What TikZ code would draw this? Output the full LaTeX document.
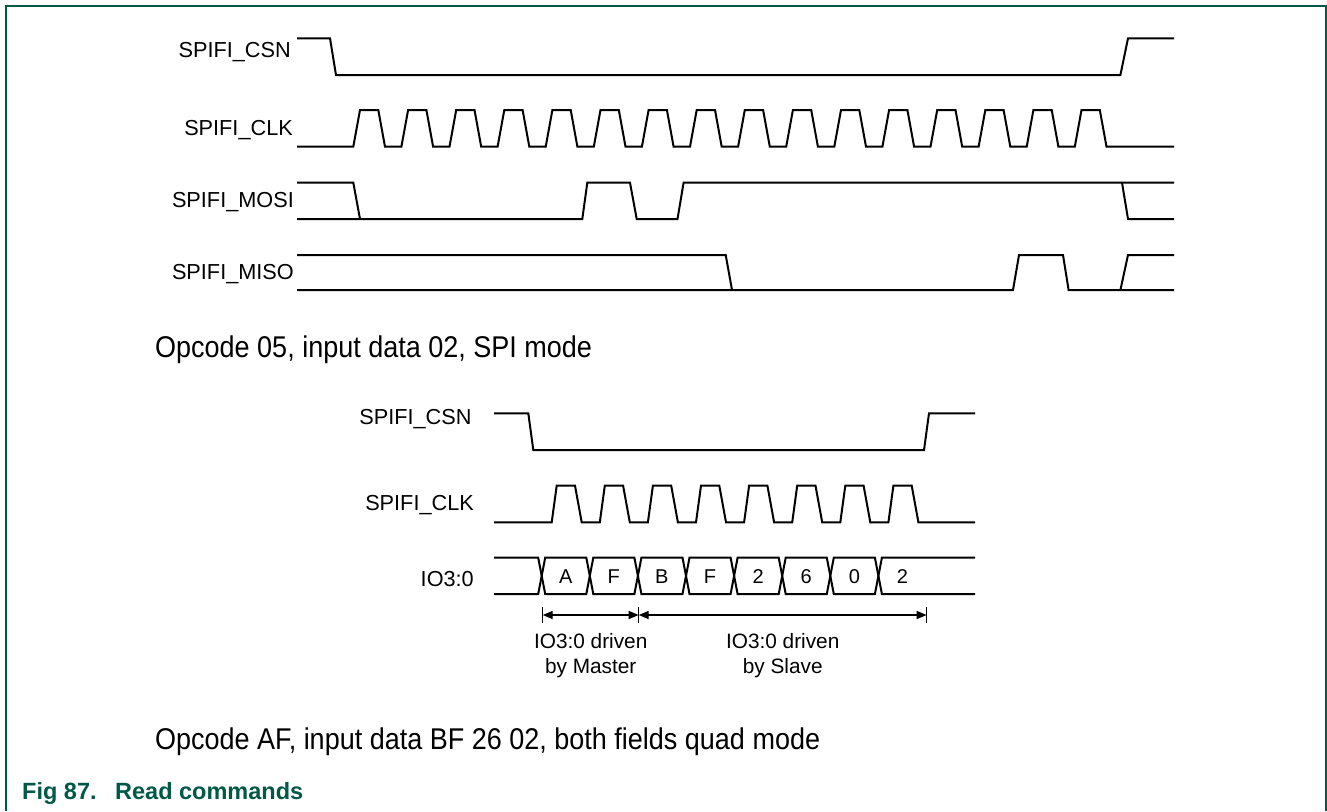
\documentclass[tikz,border=0pt]{standalone}
\usepackage{fontspec}
\setmainfont{Liberation Sans}
\newfontfamily\narrowsans{Liberation Sans}[FakeStretch=0.9]
\usetikzlibrary{arrows.meta}
\definecolor{nxpgreen}{RGB}{0,88,70}
\begin{document}
\begin{tikzpicture}[x=1pt,y=-1pt,
  sig/.style={line width=2pt,line join=miter,line cap=butt},
  lbl/.style={anchor=base east,inner sep=0pt,font=\fontsize{21.7}{26}\selectfont},
  txt/.style={anchor=base west,inner sep=0pt,font=\narrowsans\fontsize{30}{34}\selectfont},
  cell/.style={anchor=base,inner sep=0pt,font=\fontsize{20}{24}\selectfont},
  note/.style={anchor=base,inner sep=0pt,font=\fontsize{20.8}{25}\selectfont},
  figcap/.style={anchor=base west,inner sep=0pt,text=nxpgreen,font=\bfseries\fontsize{23.5}{28}\selectfont},
  dim/.style={line width=1.4pt,{Triangle[length=10pt,width=8pt]}-{Triangle[length=10pt,width=8pt]}},
  tickln/.style={line width=1pt}]
\useasboundingbox (0,0) rectangle (1327,811);
% frame
\draw[nxpgreen,line width=2pt] (5.5,811) -- (5.5,5.5) -- (1325.5,5.5) -- (1325.5,811);

% ---------- top diagram ----------
\node[lbl] (csnA) at (291,57.3) {SPIFI\_CSN};
\node[lbl] (clkA) at (293,135) {SPIFI\_CLK};
\node[lbl] (mosiA) at (294,207.3) {SPIFI\_MOSI};
\node[lbl] (misoA) at (294,279.3) {SPIFI\_MISO};

% CSN
\draw[sig] (297,38.3) -- (330,38.3) -- (336,75) -- (1120.4,75) -- (1128,38.3) -- (1174,38.3);
% CLK
\draw[sig] (297,146.7)
  foreach \k in {0,...,15} {
    -- ({353.3+48.1*\k},146.7) -- ({360+48.1*\k},110)
    -- ({378.3+48.1*\k},110) -- ({385+48.1*\k},146.7) }
  -- (1174,146.7);
% MOSI
\draw[sig] (297,182.7) -- (353.3,182.7) -- (360,219);
\draw[sig] (297,219) -- (582.3,219) -- (587.3,182.7) -- (630,182.7) -- (636.7,219)
  -- (677.5,219) -- (683.6,182.7) -- (1174,182.7);
\draw[sig] (1122,182.7) -- (1128,219) -- (1174,219);
% MISO
\draw[sig] (297,255) -- (725.7,255) -- (732,290);
\draw[sig] (297,290) -- (1013,290) -- (1019,255) -- (1063,255) -- (1068.6,290) -- (1174,290);
\draw[sig] (1120.4,290) -- (1128,255) -- (1174,255);

\node[txt] (capA) at (155,357) {Opcode 05, input data 02, SPI mode};

% ---------- bottom diagram ----------
\node[lbl] (csnB) at (471.7,424.3) {SPIFI\_CSN};
\node[lbl] (clkB) at (474,510) {SPIFI\_CLK};
\node[lbl] (ioB) at (474,586) {IO3:0};

\draw[sig] (494,413.3) -- (528.3,413.3) -- (533.3,450) -- (924,450) -- (929,413.3) -- (975,413.3);
\draw[sig] (494,522.3)
  foreach \k in {0,...,7} {
    -- ({551.7+48.1*\k},522.3) -- ({556.7+48.1*\k},485.7)
    -- ({575+48.1*\k},485.7) -- ({581.7+48.1*\k},522.3) }
  -- (975,522.3);

% bus
\def\yt{557.7}\def\yb{594}\def\ym{575.85}\def\hw{3.5}
\draw[sig] (494,\yt) -- ({541.7-\hw},\yt) -- (541.7,\ym) -- ({541.7-\hw},\yb) -- (494,\yb);
\foreach \i/\t in {0/A,1/F,2/B,3/F,4/2,5/6,6/0} {
  \pgfmathsetmacro\ca{541.7+48.1*\i}
  \pgfmathsetmacro\cb{541.7+48.1*(\i+1)}
  \draw[sig] (\ca,\ym) -- ({\ca+\hw},\yt) -- ({\cb-\hw},\yt) -- (\cb,\ym)
    -- ({\cb-\hw},\yb) -- ({\ca+\hw},\yb) -- cycle;
  \node[cell] (cell\i) at ({\ca+24},583.3) {\t};
}
\pgfmathsetmacro\cl{541.7+48.1*7}
\draw[sig] (975,\yt) -- ({\cl+\hw},\yt) -- (\cl,\ym) -- ({\cl+\hw},\yb) -- (975,\yb);
\node[cell] (cell7) at ({\cl+24},583.3) {2};

% driven-by dimension arrows
\coordinate (m0) at (542.7,615);
\coordinate (m1) at (638.7,615);
\coordinate (m2) at (926.7,615);
\draw[tickln] (542.7,606.7) -- (542.7,623.3);
\draw[tickln] (638.7,606.7) -- (638.7,623.3);
\draw[tickln] (926.7,606.7) -- (926.7,623.3);
\draw[dim] (m0) -- (m1);
\draw[dim] (m1) -- (m2);

\node[note] (mA) at (590.7,648.3) {IO3:0 driven};
\node[note] (mB) at (590.7,673.3) {by Master};
\node[note] (sA) at (782.7,648.3) {IO3:0 driven};
\node[note] (sB) at (782.7,673.3) {by Slave};

\node[txt] (capB) at (155,749) {Opcode AF, input data BF 26 02, both fields quad mode};

\node[figcap] (fignum) at (22,799) {Fig 87.};
\node[figcap] (figtitle) at (115,799) {Read commands};
\end{tikzpicture}
\end{document}
